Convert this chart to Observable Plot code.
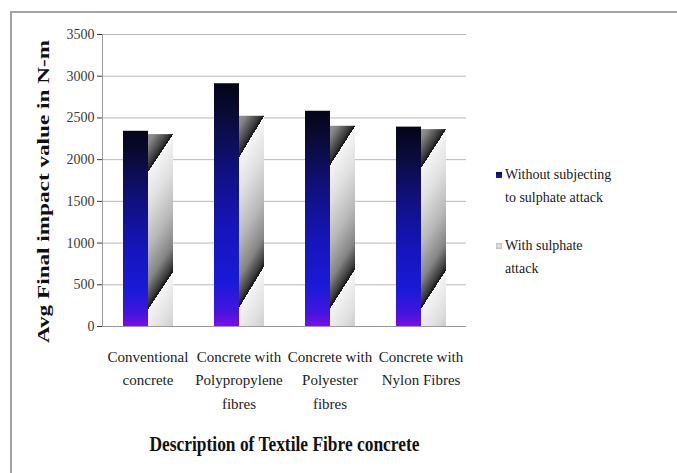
<!DOCTYPE html>
<html>
<head>
<meta charset="utf-8">
<script src="https://cdn.jsdelivr.net/npm/d3@7"></script>
<script src="https://cdn.jsdelivr.net/npm/@observablehq/plot@0.6"></script>
<style>
  html, body { margin: 0; padding: 0; background: #fff; }
  #wrap { position: relative; width: 677px; height: 473px; overflow: hidden; background: #fff; }
  #border { position: absolute; left: 10px; top: 11px; right: -10px; bottom: -10px;
            border-left: 2px solid #a3a3a3; border-top: 2px solid #a3a3a3; }
  #chart { position: absolute; left: 0; top: 0; }
  #legend { position: absolute; left: 494px; top: 163px; font-family: "Liberation Serif", serif;
            font-size: 14px; line-height: 23px; color: #1a1a1a; }
  .item { position: relative; padding-left: 11px; white-space: pre-line; margin-bottom: 25px; }
  .swatch { position: absolute; left: 2px; top: 9px; width: 6px; height: 6px; }
</style>
</head>
<body>
<div id="wrap">
  <div id="border"></div>
  <div id="chart"></div>
  <div id="legend"></div>
</div>
<script>
// Average final impact value (N-m) of textile fibre concretes
const categories = ["Conventional concrete", "Concrete with Polypropylene fibres", "Concrete with Polyester fibres", "Concrete with Nylon Fibres"];
const tickLabels = ["Conventional\nconcrete", "Concrete with\nPolypropylene\nfibres", "Concrete with\nPolyester\nfibres", "Concrete with\nNylon Fibres"];
const seriesNames = ["Without subjecting to sulphate attack", "With sulphate attack"];
const legendLabels = ["Without subjecting\nto sulphate attack", "With sulphate\nattack"];
const withoutAttack = [2340, 2910, 2580, 2390];
const withAttack = [2300, 2520, 2400, 2360];
const yTicks = [0, 500, 1000, 1500, 2000, 2500, 3000, 3500];

const rows = categories.flatMap((c, i) => [
  {category: c, series: seriesNames[0], value: withoutAttack[i]},
  {category: c, series: seriesNames[1], value: withAttack[i]}
]);

const chart = Plot.plot({
  width: 677,
  height: 473,
  marginLeft: 100,
  marginRight: 210,
  marginTop: 34,
  marginBottom: 147,
  style: {fontFamily: "'Liberation Serif', 'Times New Roman', serif", background: "transparent", color: "#222"},
  fx: {domain: categories, paddingInner: 0, paddingOuter: 0},
  x: {domain: seriesNames, paddingInner: 0, paddingOuter: 0.8, axis: null},
  y: {domain: [0, 3500]},
  marks: [
    Plot.gridY(yTicks, {stroke: "#b8b8b8", strokeOpacity: 1}),
    Plot.ruleY([0], {stroke: "#9a9a9a"}),
    Plot.frame({anchor: "left", stroke: "#9a9a9a", fx: () => categories[0]}),
    Plot.barY(rows.filter(d => d.series === seriesNames[0]),
      {fx: "category", x: "series", y: "value", fill: "url(#grad-without)"}),
    Plot.barY(rows.filter(d => d.series === seriesNames[1]),
      {fx: "category", x: "series", y: "value", fill: "url(#grad-with)"}),
    Plot.axisY({ticks: yTicks, tickFormat: "d", tickSize: 5, tickPadding: 3, fontSize: 14,
      color: "#3a3a3a", label: "Avg Final impact value in N-m", labelAnchor: "center",
      labelArrow: "none", labelOffset: 66}),
    Plot.axisFx({anchor: "bottom", tickSize: 0, tickPadding: 19, fontSize: 15, lineHeight: 1.55,
      color: "#222", tickFormat: d => tickLabels[categories.indexOf(d)],
      label: "Description of Textile Fibre concrete", labelAnchor: "center", labelArrow: "none",
      labelOffset: 124})
  ]
});

document.getElementById("chart").appendChild(chart);

// gradient fills for the two series
const svg = d3.select(chart);
const defs = svg.insert("defs", ":first-child");
const gBlue = defs.append("linearGradient").attr("id", "grad-without")
  .attr("x1", 0).attr("y1", 0).attr("x2", 0).attr("y2", 1);
[[0, "#04041a"], [0.12, "#0a0a34"], [0.35, "#10107c"], [0.6, "#1515ba"],
 [0.82, "#1a1ad8"], [0.94, "#4514e0"], [1, "#7a10e0"]]
  .forEach(([o, c]) => gBlue.append("stop").attr("offset", o).attr("stop-color", c));
const gGray = defs.append("linearGradient").attr("id", "grad-with")
  .attr("x1", 0.5).attr("y1", 0.10).attr("x2", 0.635).attr("y2", 0.789)
  .attr("spreadMethod", "repeat");
[[0, "#f5f5f5"], [0.25, "#e0e0e0"], [0.55, "#b8b8b8"], [0.8, "#858585"],
 [0.95, "#3a3a3a"], [1, "#141414"]]
  .forEach(([o, c]) => gGray.append("stop").attr("offset", o).attr("stop-color", c));

// axis titles: bold, stretched like the source layout
svg.select('g[aria-label="y-axis label"] text')
  .attr("font-size", 17).attr("font-weight", "bold").attr("fill", "#111").attr("dx", -11)
  .attr("textLength", 303).attr("lengthAdjust", "spacingAndGlyphs");
svg.select('g[aria-label="fx-axis label"] text')
  .attr("font-size", 20).attr("font-weight", "bold").attr("fill", "#111")
  .attr("textLength", 270).attr("lengthAdjust", "spacingAndGlyphs");

// legend
const legend = d3.select("#legend");
const swatchFills = ["linear-gradient(#0c0c50, #2020b0)", "radial-gradient(#f0f0f0, #b0b0b0)"];
legendLabels.forEach((label, i) => {
  const item = legend.append("div").attr("class", "item").attr("title", seriesNames[i]);
  item.append("div").attr("class", "swatch").style("background", swatchFills[i]);
  item.append("span").text(label);
});
</script>
</body>
</html>
